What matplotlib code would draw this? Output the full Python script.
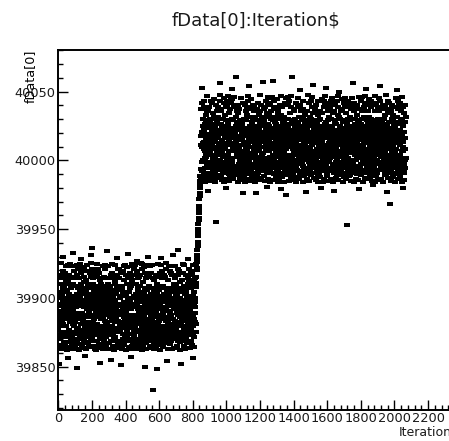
import numpy as np
import matplotlib
matplotlib.use("Agg")
import matplotlib.pyplot as plt
from matplotlib.ticker import MultipleLocator, FormatStrFormatter

# 编码表: 每组字符及其相邻两级之间的间隔 (单位同 fData[0])
CODE_GROUPS = [("0123456789", 0.56),
               ("abcd", 0.25),
               ("efghijklmnopqrstuvwxyz", 1.36),
               ("ABCDEFGHIJKLMNOPQ", 1.42),
               ("RSTUVWXYZ", 0.32)]
LEVEL = {}
_pos = 0.0
for chars, gap in CODE_GROUPS:
    for c in chars:
        LEVEL[c] = _pos
        _pos += gap

low_base = 39862  # 跳变前
low_codes = (
    "k3Bu.NfhxC7qLmIsEogZ" "pDy2iGtAnP.wcHr8jFvM" "5OhzKsmBS0gxEqI.uaLW"
    "JwrNk4DyMiAXopGe1HvT" "sC9gTuIxn.BjPfzmLbq6" "yMoA2irHwDkV.NeGlt8Q"
    "fLz0BsUjEqhYCn.OxgI5" "tAk7GyQpDieRMrwJl3Fo" "x.EhcKm1sBPvgWjzIo9C"
    "nHu4DtkOyGrAeZMl.wQi" "g.BzI6sLxoEjNqCv2mPh" "kAr0yFtHnDwXMel5QiuG"
    "Oz8hCsBmxKg.IvqEjL3f" "tGyAk1SrDwFiMeu7pHlV" "QxsCgn4EzLj.oBhmTIv9"
    "yDuA2tlGrHkN.weFipYO" "mBx6zLhCsqEjfv0IgKoU" "AwkDt3rGy.eHNlFupQ8a"
    "uLe5QjBxmFsOao.yHCt1" "GnP9iwEfrKzSl7huDqyW" "hxN0tCjoIeRg.BmwLp4s"
    "zEqlAyG2fOivHs.MnJ6X" "KpeTw8BmhCjxgQ3rlNoV" "Isy1DkfAPq.xGvnLbE5t"
    "rMjCuw7HeNzgZpBi0QlY" "vtEn4JqhDsRfA.kxmOG9" "LoiB2wyeFqNjgU.CuhMt"
    "AmHfxS6kpDlsvOe3nGWj" "qCz.gtLwiKE1bmorFhB8" "eNy5uIlDf.sGAnvkXhpM"
    "jFrOx0mBqgUeC.iwLz7P" "HltsA4evDjN9fGrMuqkZ" "wQpmcB.hzEo2yKgFnrCT"
    "uDix8PtGseOqAj1kmyNl" "BzqE.hnvIgx3TLwoFpCj" "kHfyA6tuDmeQsN.ivOGx"
    "nPgJ0crBwEz.hoKqFjmY" "iOtAx5sHlWfDeuGv2kNp" "yEgzB9mjrIL.oxCnqhKt"
    "QdluvA3eHksGPp7iNyOV" "mCr.hxEJqg4BwtzLoXjn"
)
low_outliers = [39852, 39930, 39856, 39933, 39849, 39928, 39858, 39931, 39936,
                39853, 39934, 39855, 39929, 39851, 39932, 39857, 39927, 39850,
                39930, 39833, 39848, 39929, 39854, 39931, 39935, 39852, 39928,
                39856]

# 跳变过程
ramp_values = [39908, 39915, 39911, 39922, 39926, 39920, 39931, 39935, 39929,
               39941, 39945, 39938, 39950, 39954, 39948, 39958, 39962, 39957,
               39967, 39972, 39965, 39976, 39980, 39974, 39985, 39989, 39983,
               39994]

high_base = 39984  # 跳变后
high_codes = (
    "tM3yAf.kPsDguH8lNeQv" "BrmzE0qhCoJnwF5jLbxY" "kGs.oLez7CuNqiFwHyD2"
    "QjhxAt4BrPgnKlE9fIoS" "wCm1DvyeOk.HirGq6sLA" "pNzgIx8uBtEjZhQlo.Ma"
    "ELs3iwkCqAnfzHo0DPgT" "uyJr5eBNhx.GtkQjmOlX" "FzoDi2vcKwqCgM7yAhuW"
    "mPtj.lHxRf4BszGeNirV" "yAgC9uqIwhDv.LnFpeOb" "rKoN1jseMBtEy6lGfUmi"
    "hxDw3qAFl.kPcgvHuoC8" "BejtO0zyLmGsiN5rqJfY" "lQuhC.kAwdD2nvIoMgyS"
    "zgFsmEj7xBpOeH4riLqN" "oI0tyCvG.hlAwMkzn9Df" "ePqx6BurJgmFsiZLyO3h"
    "kwDznHo.EjAfp8vGMlxI" "sNyh2QgtCrBeuKim.PzW" "5xEvJwkDqAnj1OgyHsLT"
    "CmirzWe.GotBhN3lQxdI" "uFyAj8wMsqEngDzRhK0p" "tLgxC4eiHvOkbyB.rJmX"
    "NzqsA7uhFDjoGpI1xlEc" "gkvPw.BreTtzC9imOnHV" "jDhlQ2xfAusEoK6gNzvY"
    "yBmGn.rcieF3tLqkMjwD" "oHvA0zsuPhgCk7ElyNfU" "FpmxtI5jBqOwe.nDLazG"
    "kszCy1QiMrHgvoAb8lEf" "uJtDpnG.xhLwq4BemFyZ" "rAkcPv2sIgoEiQmz9HlW"
    "NetwD.hxuKq6jGnBoLMp" "yFlzOA3imgCrvEkQ0hJd" "xBspGue7nLHqjf.DyzSo"
    "hKvwC1iAtlQrNgm4PoEX" "qzFyj.sDeOk8BnhGxMtL" "lAug2IpwCfNmr5zHQoyT"
    "tPxDj0BKvs.qeLhnOgFi" "wGrky6EoAmuQclx3NtJY" "eIzfB.pDvHqiL9gnyMkR"
    "uxCj1sAFwlPhGz7eoTqN" "yKiB4rnEv.kDtgQmHfzj" "pOxh8CuGasIweM2qlyAU"
    "jDtBr.kNfvLg0PioEzxH" "yvqA5hlOcuJmsC3rFeGW" "nFzM.gxBiDpEj9oQLywV"
    "sHkC1tAmvqNfrI6zlOgX" "BweyP.joDhGi4nFkLqzS" "gxuIr7AlCsQvmHeN2fjp"
    "zOkwD.htyBqiFn0EgLcY" "fAsPj8lGuvCezNo3HqkT" "rLxgQwt.EBh5nDjoMyFs"
    "iCzuOk1pAlxHgN9evqJZ" "yDmtb.sEwBjQho6LziFn" "PgvC.xrAluMfe2KqtyOH"
    "hJsz7GkoDiNwEqC0mBxU" "uFrAy.jlIezgv4QcMnhO" "kxEot8BPmwHifLq1zGNV"
    "vNqs.DjgKeA3lrhOFxIm"
)
high_outliers = [40053, 39978, 39955, 40056, 39980, 40052, 40061, 39976, 40054,
                 39976, 40057, 39981, 40058, 39979, 39975, 40061, 40051, 39977,
                 40055, 39980, 40053, 39978, 40050, 39953, 40056, 39979, 40052,
                 39982, 40054, 39977, 39968, 40051, 39980]


def decode(codes, base, outliers):
    extra = iter(outliers)  # '.' 取离群值列表中的下一个
    return [next(extra) if c == '.' else base + LEVEL[c] for c in codes]


y = np.array(decode(low_codes, low_base, low_outliers) + ramp_values
             + decode(high_codes, high_base, high_outliers))
x = np.arange(len(y))  # Iteration$

fig = plt.figure(figsize=(4.49, 4.41), dpi=100)
ax = fig.add_axes([58.3 / 449, 31 / 441, 401.7 / 449, 360 / 441])

dash = [(-1, -0.55), (1, -0.55), (1, 0.55), (-1, 0.55)]  # 短横线标记
ax.plot(x, y, linestyle='none', marker=dash, markersize=4.5,
        color='black', markeredgewidth=0)

ax.set_xlim(0, 2390)
ax.set_ylim(39818.5, 40080.3)
ax.xaxis.set_major_locator(MultipleLocator(200))
ax.xaxis.set_minor_locator(MultipleLocator(40))
ax.yaxis.set_major_locator(MultipleLocator(50))
ax.yaxis.set_minor_locator(MultipleLocator(10))
ax.yaxis.set_major_formatter(FormatStrFormatter('%d'))
ax.xaxis.set_major_formatter(FormatStrFormatter('%d'))

ax.tick_params(which='both', direction='in', top=False, right=False,
               width=1.0, colors='black', labelcolor='#1a1a1a', labelsize=9.3)
ax.tick_params(which='major', length=7)
ax.tick_params(which='minor', length=3.5)
ax.tick_params(axis='y', pad=2)
ax.tick_params(axis='x', pad=1.5)
for s in ax.spines.values():
    s.set_linewidth(1.4)

fig.text(256 / 449, 1 - 20 / 441, "fData[0]:Iteration$", ha='center', va='center',
         fontsize=13, color='#1a1a1a', parse_math=False)
fig.text(30 / 449, 1 - 50 / 441, "fData[0]", rotation=90, ha='center', va='top',
         fontsize=9.2, color='black', parse_math=False)
fig.text(460 / 449, 1 - 432 / 441, "Iteration$", ha='right', va='center',
         fontsize=9, color='#1a1a1a', parse_math=False)

fig.savefig("out.png", dpi=100)
